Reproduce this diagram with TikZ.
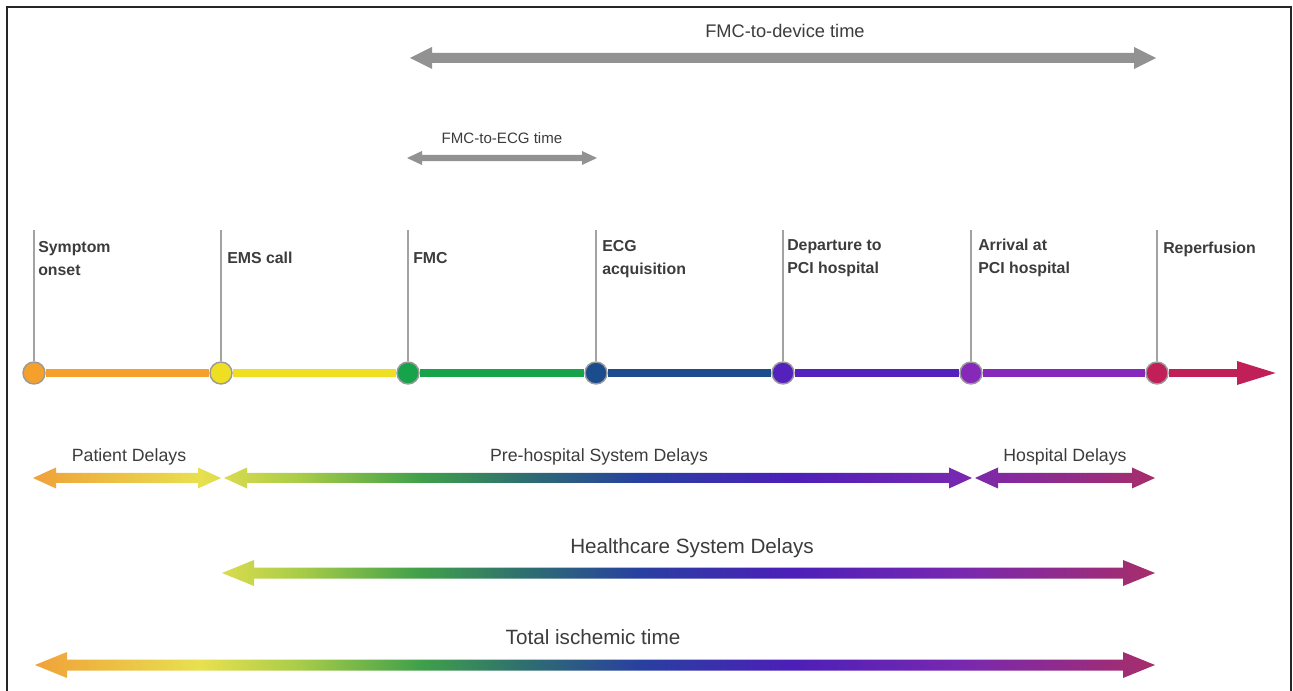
\documentclass[tikz,border=0pt]{standalone}
\usepackage{fontspec}
\setmainfont{Liberation Sans}
\usetikzlibrary{calc,arrows.meta}
\definecolor{txt}{HTML}{3C3C3C}
\definecolor{arrgrey}{HTML}{929292}
\definecolor{vgrey}{HTML}{A2A2A2}
\definecolor{ringgrey}{HTML}{9A9A9A}
\definecolor{c1}{HTML}{F5A02A}
\definecolor{c2}{HTML}{EEDF22}
\definecolor{c3}{HTML}{17A34A}
\definecolor{c4}{HTML}{1A4C8E}
\definecolor{c5}{HTML}{5521BD}
\definecolor{c6}{HTML}{8629BA}
\definecolor{c7}{HTML}{C01F58}
\definecolor{g0}{HTML}{F0A038}
\definecolor{g1}{HTML}{E8E050}
\definecolor{g2}{HTML}{A8CC48}
\definecolor{g3}{HTML}{40A04A}
\definecolor{g4}{HTML}{2E6C72}
\definecolor{g5}{HTML}{2840A0}
\definecolor{g6}{HTML}{4C1FB8}
\definecolor{g7}{HTML}{7828B0}
\definecolor{g8}{HTML}{A82E68}
\pgfdeclarehorizontalshading{timegrad}{100bp}{color(0bp)=(g0); color(25bp)=(g0); color(32.52bp)=(g1); color(36.95bp)=(g2); color(42.26bp)=(g3); color(47.12bp)=(g4); color(51.99bp)=(g5); color(58.63bp)=(g6); color(66.15bp)=(g7); color(75bp)=(g8); color(100bp)=(g8)}
% #1 left tip, #2 right tip, #3 shaft half, #4 head half, #5 head length
\newcommand\gradarrow[5]{%
  \begin{scope}
  \clip (#1) -- ($(#1)+(#5,-#4)$) -- ($(#1)+(#5,-#3)$) -- ($(#2)+(-#5,-#3)$) -- ($(#2)+(-#5,-#4)$) -- (#2) -- ($(#2)+(-#5,#4)$) -- ($(#2)+(-#5,#3)$) -- ($(#1)+(#5,#3)$) -- ($(#1)+(#5,#4)$) -- cycle;
  \shade[shading=timegrad] (30,0) rectangle (1160,691);
  \end{scope}}
\newcommand\greyarrow[5]{%
  \fill[arrgrey] (#1) -- ($(#1)+(#5,-#4)$) -- ($(#1)+(#5,-#3)$) -- ($(#2)+(-#5,-#3)$) -- ($(#2)+(-#5,-#4)$) -- (#2) -- ($(#2)+(-#5,#4)$) -- ($(#2)+(-#5,#3)$) -- ($(#1)+(#5,#3)$) -- ($(#1)+(#5,#4)$) -- cycle;}
\begin{document}
\begin{tikzpicture}[x=0.75pt,y=-0.75pt,
  dot/.style={circle,draw=ringgrey,line width=1.1pt,minimum size=16.5pt,inner sep=0pt},
  seg/.style={line width=6pt},
  vline/.style={draw=vgrey,line width=1.1pt},
  tl/.style={anchor=base west,align=left,inner sep=0pt,text=txt,font=\bfseries\fontsize{11.9}{17.6}\selectfont},
  mid/.style={anchor=base,inner sep=0pt,text=txt,font=\fontsize{13.3}{16}\selectfont},
  big/.style={anchor=base,inner sep=0pt,text=txt,font=\fontsize{15.5}{18}\selectfont},
  frame/.style={draw=black!85,line width=1.5pt}]
\useasboundingbox (0,0) rectangle (1293,691);
\draw[frame] (7,700) -- (7,7) -- (1291,7) -- (1291,700);

% top grey arrows
\coordinate (devL) at (410,58);
\coordinate (devR) at (1156,58);
\greyarrow{devL}{devR}{5}{11}{22}
\node[anchor=base,inner sep=0pt,text=txt,font=\fontsize{13.7}{16}\selectfont] (devT) at (785,37.5) {FMC-to-device time};
\coordinate (ecgL) at (407,158);
\coordinate (ecgR) at (597,158);
\greyarrow{ecgL}{ecgR}{3.2}{7}{15}
\node[anchor=base,inner sep=0pt,text=txt,font=\fontsize{11.3}{14}\selectfont] (ecgT) at (502,143.5) {FMC-to-ECG time};

% timeline
\node[dot,fill=c1] (t1) at (34,373) {};
\node[dot,fill=c2] (t2) at (221,373) {};
\node[dot,fill=c3] (t3) at (408,373) {};
\node[dot,fill=c4] (t4) at (596,373) {};
\node[dot,fill=c5] (t5) at (783,373) {};
\node[dot,fill=c6] (t6) at (971,373) {};
\node[dot,fill=c7] (t7) at (1157,373) {};
\coordinate (tip) at (1278,373);
\draw[seg,c1] (t1) -- (t2);
\draw[seg,c2] (t2) -- (t3);
\draw[seg,c3] (t3) -- (t4);
\draw[seg,c4] (t4) -- (t5);
\draw[seg,c5] (t5) -- (t6);
\draw[seg,c6] (t6) -- (t7);
\draw[seg,c7,-{Triangle[length=30.75pt,width=16pt]}] (t7) -- (tip);

\foreach \i/\x in {1/34,2/221,3/408,4/596,5/783,6/971,7/1157}{
  \coordinate (v\i) at (\x,230);
  \draw[vline] (v\i) -- (t\i);
}

\node[tl] (l1) at (38,276) {Symptom\\onset};
\node[tl] (l2) at (227,264) {EMS call};
\node[tl] (l3) at (413,264) {FMC};
\node[tl] (l4) at (602,275) {ECG\\acquisition};
\node[tl] (l5) at (787,274) {Departure to\\PCI hospital};
\node[tl] (l6) at (978,274) {Arrival at\\PCI hospital};
\node[tl] (l7) at (1163,254) {Reperfusion};

% delay arrows
\coordinate (pdL) at (33,478);
\coordinate (pdR) at (221,478);
\gradarrow{pdL}{pdR}{5}{10.5}{23}
\coordinate (phL) at (224,478);
\coordinate (phR) at (972,478);
\gradarrow{phL}{phR}{5}{10.5}{23}
\coordinate (hdL) at (975,478);
\coordinate (hdR) at (1155,478);
\gradarrow{hdL}{hdR}{5}{10.5}{23}
\coordinate (hsL) at (222,573);
\coordinate (hsR) at (1155,573);
\gradarrow{hsL}{hsR}{5.5}{13}{32}
\coordinate (tiL) at (35,665);
\coordinate (tiR) at (1155,665);
\gradarrow{tiL}{tiR}{5.5}{13}{32}

\node[mid] (pdT) at (129,462) {Patient Delays};
\node[mid] (phT) at (599,462) {Pre-hospital System Delays};
\node[mid] (hdT) at (1065,462) {Hospital Delays};
\node[big] (hsT) at (692,553) {Healthcare System Delays};
\node[big] (tiT) at (593,644.5) {Total ischemic time};
\end{tikzpicture}
\end{document}
